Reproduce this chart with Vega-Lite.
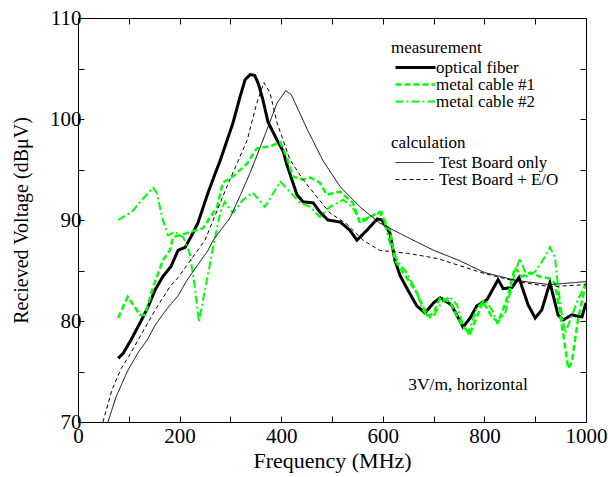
{
  "$schema": "https://vega.github.io/schema/vega-lite/v6.json",
  "width": 508,
  "height": 404,
  "autosize": {"type": "none"},
  "padding": {"left": 78, "top": 18, "right": 22, "bottom": 55},
  "background": "white",
  "config": {
    "font": "Liberation Serif",
    "view": {"stroke": "black", "strokeWidth": 1},
    "axis": {"grid": false, "domain": false, "tickColor": "black", "tickSize": -6, "tickWidth": 1, "labelColor": "black", "titleColor": "black", "labelFont": "Liberation Serif", "titleFont": "Liberation Serif", "titleFontWeight": "normal", "labelFontSize": 21},
    "legend": {"labelFont": "Liberation Serif", "titleFont": "Liberation Serif", "labelFontSize": 17, "titleFontSize": 17, "titleFontWeight": "normal", "labelColor": "black", "titleColor": "black"}
  },
  "datasets": {
    "meas": [
      {"f": 79, "v": 76.3, "s": "optical fiber"}, {"f": 89, "v": 76.8, "s": "optical fiber"}, {"f": 104, "v": 78.1, "s": "optical fiber"}, {"f": 122, "v": 79.8, "s": "optical fiber"}, {"f": 138, "v": 81.4, "s": "optical fiber"}, {"f": 152, "v": 83.1, "s": "optical fiber"}, {"f": 167, "v": 84.4, "s": "optical fiber"}, {"f": 183, "v": 85.4, "s": "optical fiber"}, {"f": 197, "v": 87.0, "s": "optical fiber"}, {"f": 211, "v": 87.3, "s": "optical fiber"}, {"f": 222, "v": 88.3, "s": "optical fiber"}, {"f": 236, "v": 89.7, "s": "optical fiber"}, {"f": 256, "v": 92.7, "s": "optical fiber"}, {"f": 270, "v": 94.6, "s": "optical fiber"}, {"f": 280, "v": 95.9, "s": "optical fiber"}, {"f": 305, "v": 99.6, "s": "optical fiber"}, {"f": 319, "v": 102.2, "s": "optical fiber"}, {"f": 329, "v": 103.9, "s": "optical fiber"}, {"f": 339, "v": 104.4, "s": "optical fiber"}, {"f": 348, "v": 104.3, "s": "optical fiber"}, {"f": 355, "v": 103.5, "s": "optical fiber"}, {"f": 364, "v": 101.9, "s": "optical fiber"}, {"f": 374, "v": 99.7, "s": "optical fiber"}, {"f": 392, "v": 97.9, "s": "optical fiber"}, {"f": 404, "v": 96.8, "s": "optical fiber"}, {"f": 411, "v": 95.5, "s": "optical fiber"}, {"f": 421, "v": 94.0, "s": "optical fiber"}, {"f": 431, "v": 92.5, "s": "optical fiber"}, {"f": 443, "v": 91.8, "s": "optical fiber"}, {"f": 463, "v": 91.7, "s": "optical fiber"}, {"f": 476, "v": 90.8, "s": "optical fiber"}, {"f": 492, "v": 90.0, "s": "optical fiber"}, {"f": 516, "v": 89.8, "s": "optical fiber"}, {"f": 535, "v": 89.0, "s": "optical fiber"}, {"f": 549, "v": 88.0, "s": "optical fiber"}, {"f": 569, "v": 89.0, "s": "optical fiber"}, {"f": 589, "v": 90.1, "s": "optical fiber"}, {"f": 598, "v": 90.0, "s": "optical fiber"}, {"f": 614, "v": 88.7, "s": "optical fiber"}, {"f": 624, "v": 86.0, "s": "optical fiber"}, {"f": 634, "v": 84.5, "s": "optical fiber"}, {"f": 650, "v": 83.0, "s": "optical fiber"}, {"f": 667, "v": 81.5, "s": "optical fiber"}, {"f": 683, "v": 80.8, "s": "optical fiber"}, {"f": 700, "v": 81.8, "s": "optical fiber"}, {"f": 713, "v": 82.3, "s": "optical fiber"}, {"f": 735, "v": 81.6, "s": "optical fiber"}, {"f": 758, "v": 79.4, "s": "optical fiber"}, {"f": 772, "v": 80.3, "s": "optical fiber"}, {"f": 785, "v": 81.5, "s": "optical fiber"}, {"f": 805, "v": 82.1, "s": "optical fiber"}, {"f": 827, "v": 84.1, "s": "optical fiber"}, {"f": 837, "v": 83.2, "s": "optical fiber"}, {"f": 854, "v": 83.3, "s": "optical fiber"}, {"f": 868, "v": 84.3, "s": "optical fiber"}, {"f": 886, "v": 81.6, "s": "optical fiber"}, {"f": 900, "v": 80.3, "s": "optical fiber"}, {"f": 913, "v": 81.1, "s": "optical fiber"}, {"f": 929, "v": 83.8, "s": "optical fiber"}, {"f": 945, "v": 80.6, "s": "optical fiber"}, {"f": 955, "v": 80.1, "s": "optical fiber"}, {"f": 972, "v": 80.6, "s": "optical fiber"}, {"f": 992, "v": 80.4, "s": "optical fiber"}, {"f": 1000, "v": 81.8, "s": "optical fiber"},

      {"f": 79, "v": 80.3, "s": "metal cable #1"}, {"f": 98, "v": 82.4, "s": "metal cable #1"}, {"f": 122, "v": 80.6, "s": "metal cable #1"}, {"f": 132, "v": 80.6, "s": "metal cable #1"}, {"f": 148, "v": 83.4, "s": "metal cable #1"}, {"f": 167, "v": 86.0, "s": "metal cable #1"}, {"f": 181, "v": 87.0, "s": "metal cable #1"}, {"f": 187, "v": 88.3, "s": "metal cable #1"}, {"f": 214, "v": 88.7, "s": "metal cable #1"}, {"f": 246, "v": 89.2, "s": "metal cable #1"}, {"f": 274, "v": 91.3, "s": "metal cable #1"}, {"f": 285, "v": 93.7, "s": "metal cable #1"}, {"f": 305, "v": 94.3, "s": "metal cable #1"}, {"f": 333, "v": 95.6, "s": "metal cable #1"}, {"f": 352, "v": 97.1, "s": "metal cable #1"}, {"f": 378, "v": 97.3, "s": "metal cable #1"}, {"f": 398, "v": 97.7, "s": "metal cable #1"}, {"f": 411, "v": 96.2, "s": "metal cable #1"}, {"f": 423, "v": 94.3, "s": "metal cable #1"}, {"f": 443, "v": 94.0, "s": "metal cable #1"}, {"f": 457, "v": 94.2, "s": "metal cable #1"}, {"f": 476, "v": 93.7, "s": "metal cable #1"}, {"f": 490, "v": 92.5, "s": "metal cable #1"}, {"f": 516, "v": 92.8, "s": "metal cable #1"}, {"f": 541, "v": 91.7, "s": "metal cable #1"}, {"f": 555, "v": 89.7, "s": "metal cable #1"}, {"f": 575, "v": 90.3, "s": "metal cable #1"}, {"f": 594, "v": 90.8, "s": "metal cable #1"}, {"f": 608, "v": 89.5, "s": "metal cable #1"}, {"f": 614, "v": 89.0, "s": "metal cable #1"}, {"f": 624, "v": 86.0, "s": "metal cable #1"}, {"f": 640, "v": 84.8, "s": "metal cable #1"}, {"f": 667, "v": 82.8, "s": "metal cable #1"}, {"f": 679, "v": 81.4, "s": "metal cable #1"}, {"f": 690, "v": 80.5, "s": "metal cable #1"}, {"f": 700, "v": 80.8, "s": "metal cable #1"}, {"f": 713, "v": 82.3, "s": "metal cable #1"}, {"f": 732, "v": 81.9, "s": "metal cable #1"}, {"f": 746, "v": 80.5, "s": "metal cable #1"}, {"f": 758, "v": 79.4, "s": "metal cable #1"}, {"f": 772, "v": 78.8, "s": "metal cable #1"}, {"f": 797, "v": 81.9, "s": "metal cable #1"}, {"f": 815, "v": 80.4, "s": "metal cable #1"}, {"f": 827, "v": 79.9, "s": "metal cable #1"}, {"f": 846, "v": 82.4, "s": "metal cable #1"}, {"f": 860, "v": 85.3, "s": "metal cable #1"}, {"f": 874, "v": 84.4, "s": "metal cable #1"}, {"f": 890, "v": 84.8, "s": "metal cable #1"}, {"f": 909, "v": 84.4, "s": "metal cable #1"}, {"f": 929, "v": 84.2, "s": "metal cable #1"}, {"f": 939, "v": 83.7, "s": "metal cable #1"}, {"f": 949, "v": 80.7, "s": "metal cable #1"}, {"f": 959, "v": 77.4, "s": "metal cable #1"}, {"f": 965, "v": 75.3, "s": "metal cable #1"}, {"f": 972, "v": 75.9, "s": "metal cable #1"}, {"f": 984, "v": 80.1, "s": "metal cable #1"}, {"f": 1000, "v": 83.8, "s": "metal cable #1"},

      {"f": 79, "v": 90.0, "s": "metal cable #2"}, {"f": 106, "v": 90.8, "s": "metal cable #2"}, {"f": 126, "v": 92.0, "s": "metal cable #2"}, {"f": 148, "v": 93.2, "s": "metal cable #2"}, {"f": 155, "v": 92.7, "s": "metal cable #2"}, {"f": 167, "v": 90.0, "s": "metal cable #2"}, {"f": 177, "v": 88.5, "s": "metal cable #2"}, {"f": 191, "v": 88.8, "s": "metal cable #2"}, {"f": 207, "v": 88.3, "s": "metal cable #2"}, {"f": 220, "v": 86.7, "s": "metal cable #2"}, {"f": 230, "v": 83.4, "s": "metal cable #2"}, {"f": 238, "v": 79.9, "s": "metal cable #2"}, {"f": 254, "v": 84.1, "s": "metal cable #2"}, {"f": 266, "v": 87.3, "s": "metal cable #2"}, {"f": 280, "v": 90.7, "s": "metal cable #2"}, {"f": 289, "v": 91.8, "s": "metal cable #2"}, {"f": 305, "v": 90.7, "s": "metal cable #2"}, {"f": 325, "v": 92.0, "s": "metal cable #2"}, {"f": 344, "v": 92.7, "s": "metal cable #2"}, {"f": 368, "v": 91.3, "s": "metal cable #2"}, {"f": 398, "v": 93.8, "s": "metal cable #2"}, {"f": 417, "v": 92.8, "s": "metal cable #2"}, {"f": 437, "v": 91.7, "s": "metal cable #2"}, {"f": 457, "v": 91.3, "s": "metal cable #2"}, {"f": 476, "v": 90.3, "s": "metal cable #2"}, {"f": 496, "v": 91.3, "s": "metal cable #2"}, {"f": 522, "v": 92.0, "s": "metal cable #2"}, {"f": 541, "v": 91.2, "s": "metal cable #2"}, {"f": 555, "v": 90.0, "s": "metal cable #2"}, {"f": 575, "v": 90.3, "s": "metal cable #2"}, {"f": 598, "v": 90.8, "s": "metal cable #2"}, {"f": 614, "v": 87.7, "s": "metal cable #2"}, {"f": 628, "v": 86.0, "s": "metal cable #2"}, {"f": 647, "v": 84.8, "s": "metal cable #2"}, {"f": 667, "v": 82.8, "s": "metal cable #2"}, {"f": 679, "v": 81.1, "s": "metal cable #2"}, {"f": 690, "v": 80.3, "s": "metal cable #2"}, {"f": 700, "v": 80.5, "s": "metal cable #2"}, {"f": 715, "v": 81.8, "s": "metal cable #2"}, {"f": 732, "v": 82.4, "s": "metal cable #2"}, {"f": 746, "v": 81.6, "s": "metal cable #2"}, {"f": 758, "v": 79.6, "s": "metal cable #2"}, {"f": 768, "v": 78.8, "s": "metal cable #2"}, {"f": 785, "v": 81.3, "s": "metal cable #2"}, {"f": 801, "v": 82.1, "s": "metal cable #2"}, {"f": 815, "v": 81.1, "s": "metal cable #2"}, {"f": 825, "v": 79.8, "s": "metal cable #2"}, {"f": 841, "v": 80.8, "s": "metal cable #2"}, {"f": 860, "v": 84.8, "s": "metal cable #2"}, {"f": 870, "v": 86.2, "s": "metal cable #2"}, {"f": 884, "v": 84.4, "s": "metal cable #2"}, {"f": 900, "v": 84.9, "s": "metal cable #2"}, {"f": 915, "v": 86.0, "s": "metal cable #2"}, {"f": 929, "v": 87.3, "s": "metal cable #2"}, {"f": 939, "v": 86.3, "s": "metal cable #2"}, {"f": 945, "v": 83.4, "s": "metal cable #2"}, {"f": 953, "v": 80.4, "s": "metal cable #2"}, {"f": 959, "v": 78.8, "s": "metal cable #2"}, {"f": 969, "v": 80.1, "s": "metal cable #2"}, {"f": 984, "v": 82.1, "s": "metal cable #2"}, {"f": 1000, "v": 83.8, "s": "metal cable #2"}
    ],
    "calc": [
      {"f": 59, "v": 70.0, "s": "Test Board only"}, {"f": 75, "v": 72.5, "s": "Test Board only"}, {"f": 98, "v": 75.1, "s": "Test Board only"}, {"f": 120, "v": 77.0, "s": "Test Board only"}, {"f": 136, "v": 78.1, "s": "Test Board only"}, {"f": 152, "v": 79.6, "s": "Test Board only"}, {"f": 175, "v": 81.2, "s": "Test Board only"}, {"f": 197, "v": 82.5, "s": "Test Board only"}, {"f": 214, "v": 84.0, "s": "Test Board only"}, {"f": 256, "v": 87.0, "s": "Test Board only"}, {"f": 266, "v": 88.0, "s": "Test Board only"}, {"f": 299, "v": 90.2, "s": "Test Board only"}, {"f": 320, "v": 92.5, "s": "Test Board only"}, {"f": 339, "v": 94.7, "s": "Test Board only"}, {"f": 364, "v": 97.9, "s": "Test Board only"}, {"f": 392, "v": 101.6, "s": "Test Board only"}, {"f": 409, "v": 102.8, "s": "Test Board only"}, {"f": 420, "v": 102.4, "s": "Test Board only"}, {"f": 451, "v": 99.0, "s": "Test Board only"}, {"f": 482, "v": 95.9, "s": "Test Board only"}, {"f": 516, "v": 93.3, "s": "Test Board only"}, {"f": 555, "v": 91.3, "s": "Test Board only"}, {"f": 594, "v": 89.7, "s": "Test Board only"}, {"f": 648, "v": 88.3, "s": "Test Board only"}, {"f": 700, "v": 87.0, "s": "Test Board only"}, {"f": 750, "v": 86.0, "s": "Test Board only"}, {"f": 800, "v": 84.8, "s": "Test Board only"}, {"f": 864, "v": 84.0, "s": "Test Board only"}, {"f": 929, "v": 83.6, "s": "Test Board only"}, {"f": 1000, "v": 83.9, "s": "Test Board only"},

      {"f": 49, "v": 70.0, "s": "Test Board + E/O"}, {"f": 67, "v": 73.2, "s": "Test Board + E/O"}, {"f": 85, "v": 75.3, "s": "Test Board + E/O"}, {"f": 100, "v": 76.5, "s": "Test Board + E/O"}, {"f": 152, "v": 81.1, "s": "Test Board + E/O"}, {"f": 181, "v": 83.4, "s": "Test Board + E/O"}, {"f": 197, "v": 84.3, "s": "Test Board + E/O"}, {"f": 250, "v": 88.0, "s": "Test Board + E/O"}, {"f": 293, "v": 93.3, "s": "Test Board + E/O"}, {"f": 333, "v": 97.9, "s": "Test Board + E/O"}, {"f": 352, "v": 101.6, "s": "Test Board + E/O"}, {"f": 366, "v": 103.6, "s": "Test Board + E/O"}, {"f": 378, "v": 102.6, "s": "Test Board + E/O"}, {"f": 392, "v": 99.6, "s": "Test Board + E/O"}, {"f": 417, "v": 96.0, "s": "Test Board + E/O"}, {"f": 443, "v": 94.0, "s": "Test Board + E/O"}, {"f": 470, "v": 92.3, "s": "Test Board + E/O"}, {"f": 496, "v": 90.7, "s": "Test Board + E/O"}, {"f": 529, "v": 89.6, "s": "Test Board + E/O"}, {"f": 561, "v": 88.0, "s": "Test Board + E/O"}, {"f": 594, "v": 87.0, "s": "Test Board + E/O"}, {"f": 648, "v": 86.7, "s": "Test Board + E/O"}, {"f": 707, "v": 86.2, "s": "Test Board + E/O"}, {"f": 750, "v": 85.5, "s": "Test Board + E/O"}, {"f": 800, "v": 84.7, "s": "Test Board + E/O"}, {"f": 864, "v": 83.9, "s": "Test Board + E/O"}, {"f": 929, "v": 83.4, "s": "Test Board + E/O"}, {"f": 1000, "v": 83.6, "s": "Test Board + E/O"}
    ],
    "note": [{"label": "3V/m, horizontal"}]
  },
  "layer": [
    {
      "data": {"name": "meas"},
      "mark": {"type": "line", "clip": true},
      "encoding": {
        "x": {"field": "f", "type": "quantitative", "scale": {"domain": [0, 1000], "nice": false, "zero": false},
              "axis": {"orient": "bottom", "values": [0, 100, 200, 300, 400, 500, 600, 700, 800, 900, 1000], "labelExpr": "datum.value % 200 == 0 ? datum.label : ''", "format": "d", "labelFlush": false, "labelOverlap": false, "labelPadding": 9, "title": "Frequency (MHz)", "titleFontSize": 22, "titlePadding": 4}},
        "y": {"field": "v", "type": "quantitative", "scale": {"domain": [70, 110], "nice": false, "zero": false},
              "axis": {"orient": "left", "values": [70, 75, 80, 85, 90, 95, 100, 105, 110], "labelExpr": "datum.value % 10 == 0 ? datum.label : ''", "labelFlush": false, "labelOverlap": false, "labelPadding": 3, "title": "Recieved Voltage (dBμV)", "titleFontSize": 20, "titlePadding": 18}},
        "color": {"field": "s", "type": "nominal", "sort": null,
                  "scale": {"domain": ["optical fiber", "metal cable #1", "metal cable #2"], "range": ["#000000", "#00ff00", "#00ff00"]},
                  "legend": {"orient": "none", "legendX": 313, "legendY": 22, "title": "measurement", "titleFontSize": 17, "titleAnchor": "start", "titlePadding": 2, "symbolType": "M-1,0H9", "symbolSize": 64, "labelOffset": 28, "rowPadding": -5.5, "padding": 0}},
        "strokeDash": {"field": "s", "type": "nominal", "sort": null,
                       "scale": {"domain": ["optical fiber", "metal cable #1", "metal cable #2"], "range": [[1, 0], [6, 3], [8, 3, 2, 3]]}},
        "strokeWidth": {"field": "s", "type": "nominal", "sort": null,
                        "scale": {"domain": ["optical fiber", "metal cable #1", "metal cable #2"], "range": [3, 2, 2]}}
      }
    },
    {
      "data": {"name": "calc"},
      "mark": {"type": "line", "clip": true},
      "encoding": {
        "x": {"field": "f", "type": "quantitative",
              "axis": {"orient": "top", "values": [0, 100, 200, 300, 400, 500, 600, 700, 800, 900, 1000], "labels": false, "title": null}},
        "y": {"field": "v", "type": "quantitative",
              "axis": {"orient": "right", "values": [70, 75, 80, 85, 90, 95, 100, 105, 110], "labels": false, "title": null}},
        "color": {"field": "s", "type": "nominal", "sort": null,
                  "scale": {"domain": ["Test Board only", "Test Board + E/O"], "range": ["#000000", "#000000"]},
                  "legend": {"orient": "none", "legendX": 313, "legendY": 117, "title": "calculation", "titleFontSize": 17, "titleAnchor": "start", "titlePadding": 2, "symbolType": "M-1,0H8.5", "symbolSize": 64, "labelOffset": 31, "rowPadding": -1, "padding": 0}},
        "strokeDash": {"field": "s", "type": "nominal", "sort": null,
                       "scale": {"domain": ["Test Board only", "Test Board + E/O"], "range": [[1, 0], [4, 3]]}},
        "strokeWidth": {"field": "s", "type": "nominal", "sort": null,
                        "scale": {"domain": ["Test Board only", "Test Board + E/O"], "range": [1, 1]}}
      }
    },
    {
      "data": {"name": "note"},
      "mark": {"type": "text", "align": "left", "baseline": "middle", "fontSize": 17.5, "font": "Liberation Serif", "color": "black"},
      "encoding": {
        "x": {"datum": 650, "type": "quantitative", "axis": null},
        "y": {"datum": 73.7, "type": "quantitative", "axis": null},
        "text": {"field": "label", "type": "nominal"}
      }
    }
  ],
  "resolve": {
    "scale": {"color": "independent", "strokeDash": "independent", "strokeWidth": "independent"},
    "legend": {"color": "independent", "strokeDash": "independent", "strokeWidth": "independent"},
    "axis": {"x": "independent", "y": "independent"}
  }
}
